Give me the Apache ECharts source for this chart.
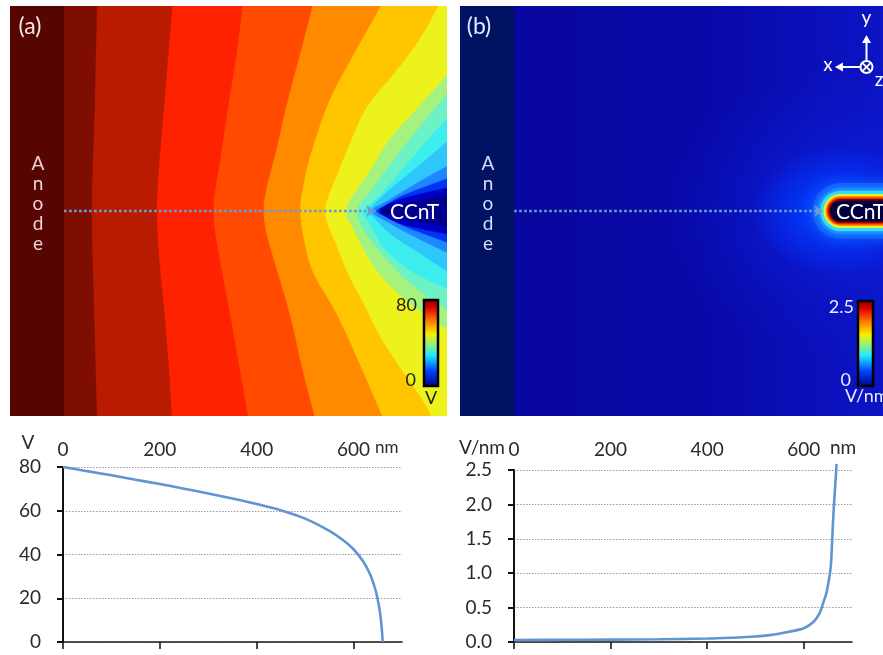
<!DOCTYPE html>
<html>
<head>
<meta charset="utf-8">
<title>CCnT potential and field</title>
<script src="https://cdn.jsdelivr.net/npm/echarts@6.0.0/dist/echarts.min.js"></script>
<style>
  html, body { margin: 0; padding: 0; background: #fff; }
  #chart { width: 883px; height: 655px; }
</style>
</head>
<body>
<div id="chart"></div>
<script>
// potential along the dotted line (distance from anode in nm, V)
const vDist = [0, 50, 100, 150, 200, 250, 300, 350, 400, 450, 500, 550, 580, 600, 620, 635, 645, 652, 656, 659, 660];
const vVal = [80, 78.1, 76.2, 74.2, 72.2, 70.1, 67.9, 65.6, 63.1, 60.2, 56.4, 50.8, 46.3, 42.4, 36.8, 30.5, 24, 17, 11, 4, 0];

// field along the dotted line (nm, V/nm)
const eDist = [0, 100, 200, 300, 400, 450, 500, 530, 570, 600, 620, 633, 640, 647, 652, 656, 659, 662, 666, 668];
const eVal = [0.03, 0.032, 0.035, 0.04, 0.05, 0.062, 0.08, 0.1, 0.15, 0.2, 0.29, 0.42, 0.56, 0.71, 0.9, 1.09, 1.48, 1.92, 2.35, 2.59];

const xTicks = [0, 200, 400, 600];

// equipotential lines of map (a), points [x nm, y nm] from top to bottom
const iso775 = [[68, 430], [63, 215], [57, 0], [62, -215], [68, -430]];
const iso725 = [[225, 430], [216, 330], [207, 215], [197, 100], [192, 0], [197, -100], [208, -215], [217, -330], [223, -430]];
const iso675 = [[370, 430], [358, 330], [342, 230], [324, 110], [309, 0], [324, -110], [344, -216], [364, -330], [382, -430]];
const iso625 = [[516, 430], [490, 330], [464, 232], [438, 120], [420, 50], [413, 0], [420, -50], [440, -120], [468, -216], [494, -330], [520, -430]];
const iso575 = [[659, 430], [603, 330], [551, 232], [514, 128], [497, 60], [489, 0], [497, -60], [516, -128], [566, -216], [618, -330], [661, -430]];
const iso525 = [[778, 430], [738, 358], [688, 290], [630, 220], [596, 150], [568, 81], [548, 32], [541, 0], [548, -32], [566, -75], [588, -130], [622, -195], [655, -261], [700, -330], [748, -400], [762, -430]];
const iso475 = [[800, 290], [738, 220], [676, 151], [632, 81], [600, 35], [584, 0], [600, -40], [648, -124], [717, -193], [800, -250]];
const iso425 = [[800, 250], [744, 184], [690, 116], [640, 48], [607, 0], [630, -54], [690, -124], [744, -172], [800, -210]];
const iso375 = [[800, 200], [744, 137], [696, 81], [649, 27], [620, 0], [632, -25], [665, -79], [717, -124], [800, -165]];
const iso325 = [[800, 150], [738, 97], [676, 46], [640, 12], [630, 0], [640, -12], [676, -48], [738, -89], [800, -130]];
const iso275 = [[800, 97], [727, 56], [676, 25], [638, 0], [676, -27], [734, -58], [800, -90]];
const iso175 = [[800, 70], [707, 35], [665, 12], [647, 0], [665, -12], [707, -33], [800, -68]];
const iso100 = [[800, 50], [696, 25], [653, 0], [696, -27], [800, -50]];
const iso50 = [[800, 35], [690, 14], [657, 0], [690, -14], [800, -35]];

// drawn from the tip outwards, each filled with the band on its anode side
const isoLines = [iso50, iso100, iso175, iso275, iso325, iso375, iso425, iso475, iso525, iso575, iso625, iso675, iso725, iso775];
const isoColors = ['#0000c4', '#0034f4', '#1e86ff', '#2fc6fb', '#3ceeee', '#6cf2c4', '#a6f27e', '#eef21c',
  '#ffc600', '#ff8a00', '#ff4a00', '#fe2200', '#b91b00', '#7e0d02'];

const anodeFace = 0;        // nm
const probeLine = [0, 645]; // dotted arrow in (a), nm
const probeLineB = [0, 639]; // dotted arrow in (b), nm
const tubeAxis = [675, 900]; // nanotube axis, from cap centre past the edge

// halo around the tube tip in (b): ellipse size and gradient stops
const halos = [
  [[380, 280], [[0, 'rgba(10,50,255,0.70)'], [0.45, 'rgba(10,40,240,0.28)'], [1, 'rgba(10,30,220,0)']]],
  [[180, 130], [[0, 'rgba(0,90,255,1)'], [0.5, 'rgba(0,60,255,0.6)'], [1, 'rgba(0,50,255,0)']]]
];
// coloured rings of the tube in (b): width, colour, blur
const tubeLayers = [
  [56, 'rgba(20,100,255,0.9)', 14],
  [46, '#1a8cff', 5],
  [40, '#36dcf2', 2],
  [34, '#e6f22e', 0],
  [30, '#ff9400', 0],
  [27, '#f02400', 0],
  [24, '#8a0800', 0],
  [21, '#00003c', 0]
];

const jet = [
  { offset: 0, color: '#7a0000' },
  { offset: 0.1, color: '#e00000' },
  { offset: 0.25, color: '#ff7a00' },
  { offset: 0.4, color: '#f4f000' },
  { offset: 0.52, color: '#90f080' },
  { offset: 0.64, color: '#20e8ff' },
  { offset: 0.82, color: '#0040ff' },
  { offset: 1, color: '#000080' }
];

const FONT = 'Lato, "Noto Sans", sans-serif';
const chart = echarts.init(document.getElementById('chart'));

// catmull-rom through pixel points, as svg path commands
function curveThrough(pts) {
  let d = 'L' + pts[0][0] + ',' + pts[0][1];
  for (let i = 0; i < pts.length - 1; i++) {
    const p0 = pts[i - 1] || pts[i], p1 = pts[i], p2 = pts[i + 1], p3 = pts[i + 2] || p2;
    const c1 = [p1[0] + (p2[0] - p0[0]) / 6, p1[1] + (p2[1] - p0[1]) / 6];
    const c2 = [p2[0] - (p3[0] - p1[0]) / 6, p2[1] - (p3[1] - p1[1]) / 6];
    d += 'C' + c1[0] + ',' + c1[1] + ' ' + c2[0] + ',' + c2[1] + ' ' + p2[0] + ',' + p2[1];
  }
  return d;
}

function contourItem(params, api) {
  const line = isoLines[params.dataIndex];
  const farL = -250, farR = 950, farT = 560, farB = -560;
  const first = line[0], last = line[line.length - 1];
  const pre = [[farL, farT]];
  if (first[0] >= 790) pre.push([farR, farT], [farR, first[1]]);
  else pre.push([first[0], farT]);
  const post = [];
  if (last[0] >= 790) post.push([farR, last[1]], [farR, farB]);
  else post.push([last[0], farB]);
  post.push([farL, farB]);
  const px = p => api.coord(p);
  let d = 'M' + px(pre[0]).join(',');
  pre.slice(1).forEach(p => { d += 'L' + px(p).join(','); });
  d += curveThrough(line.map(px));
  post.forEach(p => { d += 'L' + px(p).join(','); });
  d += 'Z';
  const c = isoColors[params.dataIndex];
  return {
    type: 'path',
    shape: { pathData: d },
    style: { fill: c, stroke: c, lineWidth: 0.6 }
  };
}

function anodeItem(color) {
  return function (params, api) {
    const cs = params.coordSys;
    const face = api.coord([anodeFace, 0])[0];
    return {
      type: 'rect',
      shape: { x: cs.x, y: cs.y, width: face - cs.x, height: cs.height },
      style: { fill: color }
    };
  };
}

function probe(xi, range) {
  return {
    type: 'line', xAxisIndex: xi, yAxisIndex: xi, z: 6, silent: true,
    data: [
      { value: [range[0], 0], symbol: 'none' },
      { value: [range[1], 0], symbol: 'arrow', symbolSize: [9, 9], symbolRotate: -90 }
    ],
    lineStyle: { color: '#6b9bd5', width: 2.7, type: [2.7, 2.3], cap: 'butt' },
    itemStyle: { color: '#6b9bd5' }
  };
}

const haloSeries = halos.map(h => ({
  type: 'scatter', xAxisIndex: 1, yAxisIndex: 1, z: 2, silent: true,
  symbol: 'circle', symbolSize: h[0],
  data: [[tubeAxis[0], 0]],
  itemStyle: {
    opacity: 1,
    color: new echarts.graphic.RadialGradient(0.5, 0.5, 0.5, h[1].map(s => ({ offset: s[0], color: s[1] })))
  }
}));

const tubeSeries = tubeLayers.map(l => ({
  type: 'line', xAxisIndex: 1, yAxisIndex: 1, z: 3, silent: true, showSymbol: false,
  data: [[tubeAxis[0], 0], [tubeAxis[1], 0]],
  lineStyle: { width: l[0], color: l[1], cap: 'round', shadowBlur: l[2], shadowColor: l[1] }
}));

function bottomX(grid, offset) {
  return {
    gridIndex: grid, type: 'value', min: 0, max: 700, interval: 200,
    position: 'top', offset: offset,
    axisLine: { show: true, lineStyle: { color: '#1a1a1a', width: 1.6 } },
    axisTick: { show: true, inside: true, length: 7, customValues: xTicks, lineStyle: { color: '#1a1a1a', width: 1.6 } },
    axisLabel: { inside: true, margin: 22, fontSize: 19, color: '#2a2a2a', fontFamily: FONT, customValues: xTicks },
    splitLine: { show: false }
  };
}

function bottomY(grid, max, interval, fmt) {
  return {
    gridIndex: grid, type: 'value', min: 0, max: max, interval: interval,
    axisLine: { show: true, lineStyle: { color: '#111', width: 2 } },
    axisTick: { show: true, length: 6, lineStyle: { color: '#111', width: 2 } },
    axisLabel: { fontSize: 19, color: '#2a2a2a', margin: 22, fontFamily: FONT, formatter: fmt },
    splitLine: { show: true, lineStyle: { color: '#9a9a9a', width: 1, type: [1.5, 1.5] } }
  };
}

function txt(text, x, y, size, fill, align, lineHeight) {
  const style = {
    text: text, fill: fill, font: size + 'px ' + FONT,
    align: align || 'center', verticalAlign: 'middle',
    textAlign: align || 'center', textVerticalAlign: 'middle'
  };
  if (lineHeight) style.lineHeight = lineHeight;
  return { type: 'text', x: x, y: y, silent: true, z: 50, style: style };
}

const white = '#ffffff';
const option = {
  animation: false,
  backgroundColor: '#fff',
  grid: [
    { left: 10, top: 6, width: 437, height: 410, show: true, backgroundColor: '#00008c', borderWidth: 0, containLabel: false, outerBoundsMode: 'none' },
    {
      left: 460, top: 6, width: 423, height: 410, show: true, borderWidth: 0, containLabel: false, outerBoundsMode: 'none',
      backgroundColor: new echarts.graphic.LinearGradient(0, 0, 1, 0, [
        { offset: 0, color: '#07079c' }, { offset: 0.55, color: '#0808a6' }, { offset: 1, color: '#0c14c4' }
      ])
    },
    { left: 63, top: 467, width: 339, height: 175, containLabel: false, outerBoundsMode: 'none' },
    { left: 514, top: 470, width: 338, height: 172, containLabel: false, outerBoundsMode: 'none' }
  ],
  xAxis: [
    { gridIndex: 0, type: 'value', min: -112, max: 794, show: false },
    { gridIndex: 1, type: 'value', min: -112, max: 763, show: false },
    bottomX(2, 49),
    bottomX(3, 52)
  ],
  yAxis: [
    { gridIndex: 0, type: 'value', min: -425, max: 425, show: false },
    { gridIndex: 1, type: 'value', min: -425, max: 425, show: false },
    bottomY(2, 80, 20),
    bottomY(3, 2.5, 0.5, v => v.toFixed(1))
  ],
  series: [
    {
      type: 'custom', xAxisIndex: 0, yAxisIndex: 0, z: 1, clip: true, silent: true,
      data: isoLines.map((l, i) => [i]), renderItem: contourItem
    },
    {
      type: 'custom', xAxisIndex: 0, yAxisIndex: 0, z: 2, clip: true, silent: true,
      data: [[anodeFace, 0]], renderItem: anodeItem('#560500')
    },
    probe(0, probeLine),
    {
      type: 'custom', xAxisIndex: 1, yAxisIndex: 1, z: 2, clip: true, silent: true,
      data: [[anodeFace, 0]], renderItem: anodeItem('#001262')
    },
    ...haloSeries,
    ...tubeSeries,
    probe(1, probeLineB),
    {
      type: 'line', xAxisIndex: 2, yAxisIndex: 2, showSymbol: false, smooth: 0.35,
      data: vDist.map((d, i) => [d, vVal[i]]),
      lineStyle: { color: '#5f95d3', width: 2.6 }
    },
    {
      type: 'line', xAxisIndex: 3, yAxisIndex: 3, showSymbol: false, smooth: 0.3, clip: false,
      data: eDist.map((d, i) => [d, eVal[i]]),
      lineStyle: { color: '#5f95d3', width: 2.6 }
    }
  ],
  graphic: [
    // panel (a) labels
    txt('(a)', 30, 27, 23, '#f4e8e8'),
    txt('A\nn\no\nd\ne', 38, 204, 19, '#eed4d4', 'center', 20),
    txt('CCnT', 390, 212, 21, white, 'left'),
    {
      type: 'rect', z: 50, silent: true, shape: { x: 424, y: 300, width: 14, height: 86 },
      style: { fill: new echarts.graphic.LinearGradient(0, 0, 0, 1, jet), stroke: '#000', lineWidth: 2.5 }
    },
    txt('80', 417, 305, 18, '#222', 'right'),
    txt('0', 416, 380, 18, '#222', 'right'),
    txt('V', 431, 398, 18, '#222'),
    // panel (b) labels
    txt('(b)', 479, 27, 23, '#e4e8ff'),
    txt('A\nn\no\nd\ne', 488, 204, 19, '#d4dcff', 'center', 20),
    txt('CCnT', 836, 212, 21, white, 'left'),
    {
      type: 'rect', z: 50, silent: true, shape: { x: 858, y: 301, width: 15, height: 85 },
      style: { fill: new echarts.graphic.LinearGradient(0, 0, 0, 1, jet), stroke: '#000', lineWidth: 2.5 }
    },
    txt('2.5', 854, 307, 18, '#e8ecff', 'right'),
    txt('0', 851, 380, 18, '#e8ecff', 'right'),
    txt('V/nm', 845, 396, 18, '#e8ecff', 'left'),
    // coordinate glyph
    { type: 'circle', z: 50, silent: true, shape: { cx: 866.5, cy: 67, r: 6 }, style: { stroke: white, lineWidth: 2, fill: 'transparent' } },
    { type: 'line', z: 50, silent: true, shape: { x1: 862.3, y1: 62.8, x2: 870.7, y2: 71.2 }, style: { stroke: white, lineWidth: 1.8 } },
    { type: 'line', z: 50, silent: true, shape: { x1: 870.7, y1: 62.8, x2: 862.3, y2: 71.2 }, style: { stroke: white, lineWidth: 1.8 } },
    { type: 'line', z: 50, silent: true, shape: { x1: 866.5, y1: 61, x2: 866.5, y2: 42 }, style: { stroke: white, lineWidth: 2 } },
    { type: 'polygon', z: 50, silent: true, shape: { points: [[866.5, 35], [862, 43], [871, 43]] }, style: { fill: white } },
    { type: 'line', z: 50, silent: true, shape: { x1: 860.5, y1: 67, x2: 843, y2: 67 }, style: { stroke: white, lineWidth: 2 } },
    { type: 'polygon', z: 50, silent: true, shape: { points: [[835, 67], [843, 62.5], [843, 71.5]] }, style: { fill: white } },
    txt('y', 866.5, 18, 19, white),
    txt('x', 828, 65, 19, white),
    txt('z', 879, 80, 19, white),
    // axis units of the profiles
    txt('V', 28, 443, 19, '#2a2a2a'),
    txt('nm', 375, 448, 17, '#2a2a2a', 'left'),
    txt('V/nm', 505, 448, 19, '#2a2a2a', 'right'),
    txt('nm', 830, 448, 19, '#2a2a2a', 'left')
  ]
};

chart.setOption(option);
</script>
</body>
</html>
